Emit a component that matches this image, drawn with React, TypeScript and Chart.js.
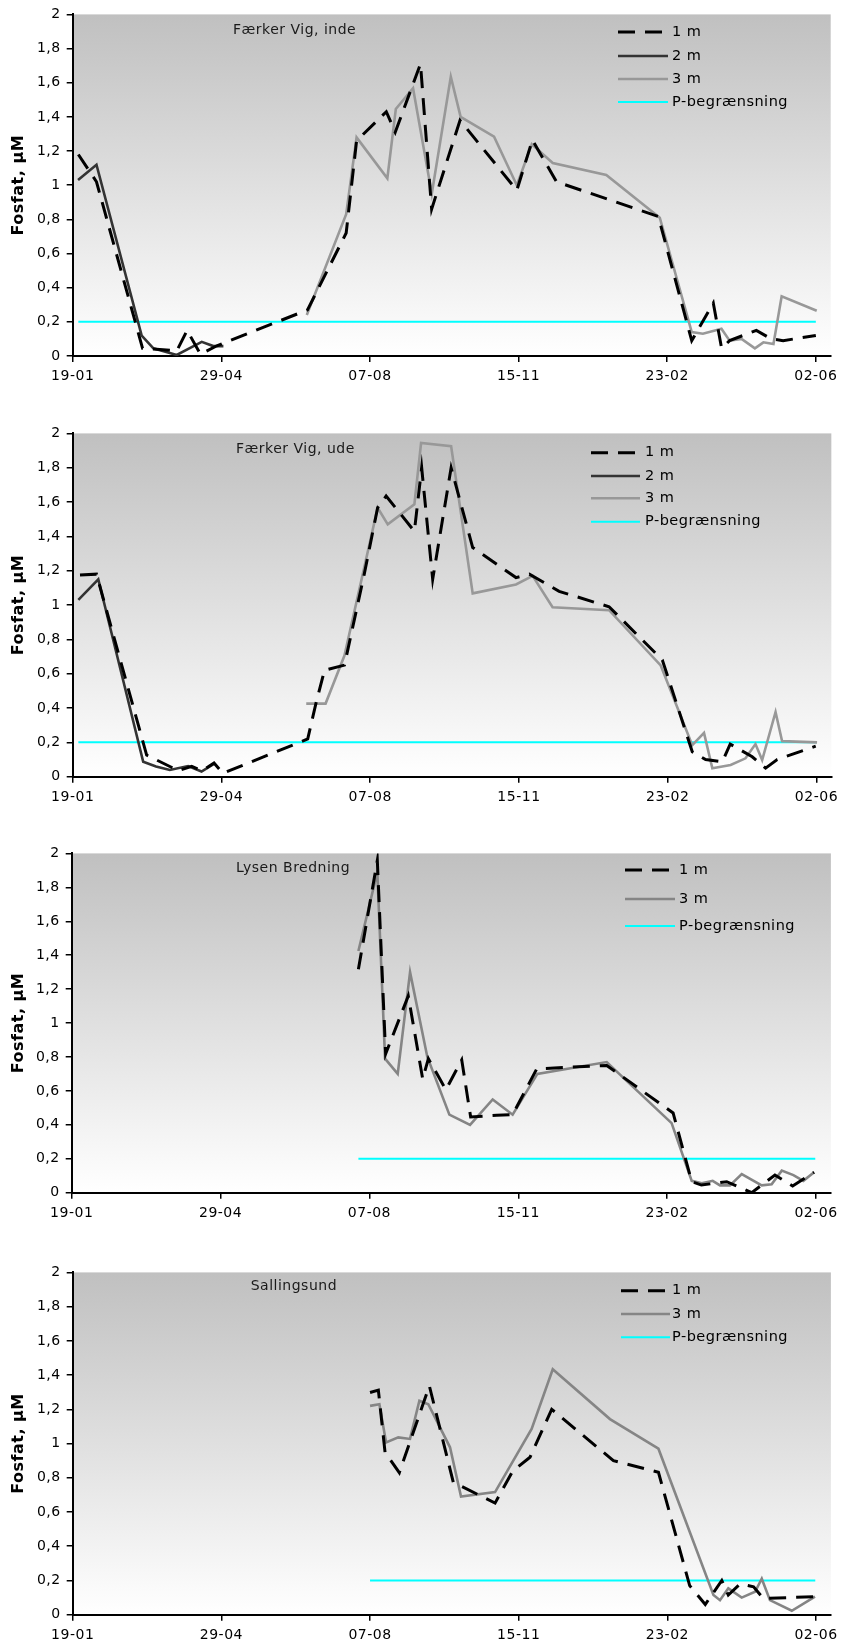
import React, { useEffect, useRef } from "react";
import { Chart, registerables } from "chart.js";

Chart.register(...registerables);

const FONT = "'DejaVu Sans', Verdana, sans-serif";

// Axis ticks (x in days after 19-01)
const xTickDays = [0, 100, 200, 300, 400, 500];
const xTickLabels = ["19-01", "29-04", "07-08", "15-11", "23-02", "02-06"];
const yTickValues = [0, 0.2, 0.4, 0.6, 0.8, 1, 1.2, 1.4, 1.6, 1.8, 2];
const yTickLabels = ["0", "0,2", "0,4", "0,6", "0,8", "1", "1,2", "1,4", "1,6", "1,8", "2"];

const label1m = "1 m";
const label2m = "2 m";
const label3m = "3 m";
const labelP = "P-begrænsning";
const pLimit = 0.2;
const yTitle = "Fosfat, µM";

// Færker Vig, inde
const inde1mDays = [3.8, 16, 47, 70, 77, 86, 97, 158, 184, 191, 211, 217, 234, 241.5, 260.6, 298.8, 309.3, 325.5, 394, 416.5, 431, 436.6, 442, 460, 470, 478, 500];
const inde1mVals = [1.18, 1.02, 0.045, 0.03, 0.15, 0.01, 0.06, 0.27, 0.72, 1.26, 1.43, 1.31, 1.71, 0.86, 1.38, 0.97, 1.265, 1.02, 0.817, 0.09, 0.31, 0.045, 0.09, 0.15, 0.1, 0.09, 0.12];
const inde2mDays = [3.6, 16, 46.4, 54.3, 70, 86.8, 94.6, 101.4];
const inde2mVals = [1.03, 1.12, 0.12, 0.045, 0.006, 0.083, 0.058, 0.058];
const inde3mDays = [157.5, 184, 191, 211.7, 217.4, 229, 241.6, 254.4, 261, 283.5, 298.8, 308.9, 323, 359, 395, 416.5, 424, 436.5, 442, 450, 459, 464.7, 471.5, 477, 500.6];
const inde3mVals = [0.24, 0.83, 1.28, 1.04, 1.446, 1.568, 0.95, 1.635, 1.4, 1.284, 1.0, 1.24, 1.13, 1.06, 0.81, 0.14, 0.13, 0.16, 0.09, 0.1, 0.045, 0.08, 0.07, 0.35, 0.265];
const indePDays = [3.8, 500];

// Færker Vig, ude
const ude1mDays = [4.9, 16, 49.7, 71, 80, 87, 95, 101, 158, 163.6, 169.3, 182.7, 196, 205, 210.7, 229.7, 234.6, 242, 254.4, 268.9, 298, 307, 327, 360.6, 396.4, 416.5, 425.5, 436.7, 442, 456.8, 465.8, 473.6, 499.5];
const ude1mVals = [1.175, 1.18, 0.126, 0.035, 0.06, 0.035, 0.08, 0.02, 0.22, 0.43, 0.62, 0.65, 1.18, 1.567, 1.635, 1.43, 1.8, 1.15, 1.8, 1.335, 1.16, 1.18, 1.08, 0.99, 0.68, 0.145, 0.1, 0.087, 0.19, 0.116, 0.05, 0.1, 0.178];
const ude2mDays = [3.8, 17.2, 47.4, 56, 65.3, 77.6, 86.6, 95.5];
const ude2mVals = [1.03, 1.15, 0.087, 0.06, 0.039, 0.062, 0.03, 0.078];
const ude3mDays = [157, 170, 182.7, 205, 211.8, 229.7, 234.2, 254.4, 268.9, 298, 309.2, 322.6, 360.6, 395.3, 416.5, 424.4, 430, 442.3, 452.3, 459, 463.5, 472.5, 476.9, 500.4];
const ude3mVals = [0.426, 0.426, 0.706, 1.567, 1.47, 1.587, 1.944, 1.925, 1.068, 1.12, 1.17, 0.987, 0.97, 0.648, 0.184, 0.255, 0.049, 0.068, 0.107, 0.19, 0.097, 0.377, 0.207, 0.2];
const udePDays = [3.8, 500];

// Lysen Bredning
const lysen1mDays = [192.6, 205.3, 210.9, 226.1, 235.8, 239.6, 251.4, 262, 268, 285.5, 296.2, 312.4, 359.4, 404, 416.5, 423, 440, 456.8, 472.4, 484.3, 498.7];
const lysen1mVals = [1.317, 1.958, 0.818, 1.16, 0.67, 0.79, 0.607, 0.783, 0.446, 0.456, 0.46, 0.73, 0.75, 0.47, 0.065, 0.045, 0.065, 0.0, 0.104, 0.04, 0.12];
const lysen3mDays = [192.6, 205.3, 210.5, 219, 227.3, 238.9, 253.7, 267.6, 282.8, 296.2, 312.8, 359.4, 403, 416.5, 423.2, 430.6, 435.5, 442.2, 450.1, 463.5, 470.2, 477, 484.8, 491.5, 498.7];
const lysen3mVals = [1.425, 1.89, 0.79, 0.7, 1.3, 0.8, 0.46, 0.4, 0.55, 0.46, 0.7, 0.77, 0.41, 0.07, 0.055, 0.07, 0.043, 0.043, 0.11, 0.043, 0.05, 0.13, 0.104, 0.07, 0.12];
const lysenPDays = [192.6, 499.5];

// Sallingsund
const salling1mDays = [200, 205.6, 210.1, 219.7, 239.9, 256, 284.1, 296, 307.6, 322.2, 363.7, 394, 415, 425.5, 436.6, 441, 449, 458, 464.5, 499.3];
const salling1mVals = [1.298, 1.312, 0.949, 0.83, 1.337, 0.774, 0.652, 0.84, 0.92, 1.2, 0.9, 0.832, 0.17, 0.06, 0.2, 0.115, 0.18, 0.163, 0.095, 0.105];
const salling3mDays = [200, 206.3, 210.8, 219, 226.9, 233.2, 239.2, 253.8, 261.2, 284.1, 308.7, 322.9, 361.4, 394, 431, 435.4, 441, 450, 459, 463.5, 469, 483.7, 499.3];
const salling3mVals = [1.22, 1.23, 1.007, 1.036, 1.027, 1.25, 1.23, 0.978, 0.69, 0.716, 1.085, 1.434, 1.143, 0.97, 0.115, 0.085, 0.154, 0.1, 0.134, 0.21, 0.085, 0.023, 0.105];
const sallingPDays = [200, 499.5];

const zip = (xs: number[], ys: number[]) => xs.map((x, i) => ({ x, y: ys[i] }));
const flat = (xs: number[], v: number) => xs.map((x) => ({ x, y: v }));

type Series = { label: string; days: number[]; vals: number[] | null; kind: string };

type Panel = {
  title: string;
  series: Series[];
  canvasTop: number;
  canvasH: number;
  plotTop: number;
  plotBottom: number;
  plotLeft: number;
  plotRight: number;
  gray: string;
  legend: { x0: number; x1: number; tx: number; rows: number[] };
  titleX: number;
  titleY: number;
};

const panels: Panel[] = [
  {
    title: "Færker Vig, inde",
    series: [
      { label: label1m, days: inde1mDays, vals: inde1mVals, kind: "d" },
      { label: label2m, days: inde2mDays, vals: inde2mVals, kind: "s2" },
      { label: label3m, days: inde3mDays, vals: inde3mVals, kind: "s3" },
      { label: labelP, days: indePDays, vals: null, kind: "p" },
    ],
    canvasTop: 0, canvasH: 389, plotTop: 13.3, plotBottom: 356, plotLeft: 72.7, plotRight: 830.7,
    gray: "#989898",
    legend: { x0: 618, x1: 668, tx: 672, rows: [32, 56, 79, 102] },
    titleX: 233, titleY: 30,
  },
  {
    title: "Færker Vig, ude",
    series: [
      { label: label1m, days: ude1mDays, vals: ude1mVals, kind: "d" },
      { label: label2m, days: ude2mDays, vals: ude2mVals, kind: "s2" },
      { label: label3m, days: ude3mDays, vals: ude3mVals, kind: "s3" },
      { label: labelP, days: udePDays, vals: null, kind: "p" },
    ],
    canvasTop: 419, canvasH: 391, plotTop: 432, plotBottom: 776.7, plotLeft: 72.7, plotRight: 833,
    gray: "#989898",
    legend: { x0: 591, x1: 640, tx: 645, rows: [33.7, 57, 79.3, 102.7] },
    titleX: 236, titleY: 30.3,
  },
  {
    title: "Lysen Bredning",
    series: [
      { label: label1m, days: lysen1mDays, vals: lysen1mVals, kind: "d" },
      { label: label3m, days: lysen3mDays, vals: lysen3mVals, kind: "s3" },
      { label: labelP, days: lysenPDays, vals: null, kind: "p" },
    ],
    canvasTop: 839, canvasH: 387, plotTop: 852, plotBottom: 1192.7, plotLeft: 71.7, plotRight: 830.9,
    gray: "#858585",
    legend: { x0: 625, x1: 675, tx: 679, rows: [31, 60, 87] },
    titleX: 236, titleY: 29.3,
  },
  {
    title: "Sallingsund",
    series: [
      { label: label1m, days: salling1mDays, vals: salling1mVals, kind: "d" },
      { label: label3m, days: salling3mDays, vals: salling3mVals, kind: "s3" },
      { label: labelP, days: sallingPDays, vals: null, kind: "p" },
    ],
    canvasTop: 1258, canvasH: 390, plotTop: 1271, plotBottom: 1614.7, plotLeft: 72.7, plotRight: 830.9,
    gray: "#858585",
    legend: { x0: 621, x1: 670, tx: 672, rows: [32.7, 56, 79.3] },
    titleX: 250.7, titleY: 28.7,
  },
];

function buildDataset(s: Series, gray: string) {
  const base: any = {
    label: s.label,
    data: s.vals ? zip(s.days, s.vals) : flat(s.days, pLimit),
    pointRadius: 0,
    pointHoverRadius: 0,
    fill: false,
    tension: 0,
  };
  if (s.kind === "d") {
    base.borderColor = "#000000";
    base.borderWidth = 3;
    base.borderDash = [17, 10];
  } else if (s.kind === "s2") {
    base.borderColor = "#333333";
    base.borderWidth = 2.6;
  } else if (s.kind === "s3") {
    base.borderColor = gray;
    base.borderWidth = 2.6;
  } else {
    base.borderColor = "#00ffff";
    base.borderWidth = 2;
  }
  return base;
}

function ChartPanel({ p }: { p: Panel }) {
  const ref = useRef<HTMLCanvasElement | null>(null);
  useEffect(() => {
    if (!ref.current) return;
    const padTop = p.plotTop - p.canvasTop;
    const localBottom = p.plotBottom - p.canvasTop;
    const xAxisH = p.canvasH - localBottom;
    const padRight = 843 - p.plotRight;

    const bgPlugin = {
      id: "bgGradient",
      beforeDraw(chart: any) {
        const { ctx, chartArea } = chart;
        const { left, top, right, bottom } = chartArea;
        const g = ctx.createLinearGradient(0, top, 0, bottom);
        g.addColorStop(0, "#c0c0c0");
        g.addColorStop(1, "#ffffff");
        ctx.save();
        ctx.fillStyle = g;
        ctx.fillRect(left, top, right - left, bottom - top);
        ctx.restore();
        try { (ctx as any).letterSpacing = "0.5px"; } catch (e) {}
      },
    };

    const overlayPlugin = {
      id: "overlay",
      afterDraw(chart: any) {
        const ctx = chart.ctx;
        ctx.save();
        try { (ctx as any).letterSpacing = "0.5px"; } catch (e) {}
        ctx.font = `14px ${FONT}`;
        ctx.fillStyle = "#1a1a1a";
        ctx.textBaseline = "middle";
        ctx.textAlign = "left";
        ctx.fillText(p.title, p.titleX, p.titleY);
        const lg = p.legend;
        ctx.font = `14.5px ${FONT}`;
        chart.data.datasets.forEach((ds: any, i: number) => {
          const y = lg.rows[i];
          ctx.save();
          ctx.strokeStyle = ds.borderColor;
          ctx.lineWidth = ds.borderWidth;
          ctx.setLineDash(ds.borderDash || []);
          ctx.beginPath();
          ctx.moveTo(lg.x0, y);
          ctx.lineTo(lg.x1, y);
          ctx.stroke();
          ctx.restore();
          ctx.fillStyle = "#000";
          ctx.fillText(ds.label, lg.tx, y);
        });
        ctx.restore();
      },
    };

    const chart = new Chart(ref.current, {
      type: "line",
      data: { datasets: p.series.map((s) => buildDataset(s, p.gray)) },
      options: {
        responsive: false,
        animation: false,
        devicePixelRatio: 1,
        events: [],
        layout: { padding: { top: padTop, left: 0, right: padRight, bottom: 0 } },
        plugins: {
          legend: { display: false },
          tooltip: { enabled: false },
          title: { display: false },
        },
        scales: {
          x: {
            type: "linear",
            min: 0,
            max: 510,
            afterBuildTicks: (s: any) => {
              s.ticks = xTickDays.map((v) => ({ value: v }));
            },
            afterFit: (s: any) => {
              s.height = xAxisH;
            },
            grid: {
              display: true,
              drawOnChartArea: false,
              drawTicks: true,
              tickLength: 6,
              color: "#000",
              lineWidth: 1.5,
            },
            border: { display: true, color: "#000", width: 2 },
            ticks: {
              autoSkip: false,
              maxRotation: 0,
              padding: 6,
              color: "#000",
              font: { family: FONT, size: 14 },
              callback: (_v: any, i: number) => xTickLabels[i],
            },
          },
          y: {
            type: "linear",
            min: 0,
            max: 2,
            afterBuildTicks: (s: any) => {
              s.ticks = yTickValues.map((v) => ({ value: v }));
            },
            afterFit: (s: any) => {
              s.width = p.plotLeft;
            },
            grid: {
              display: true,
              drawOnChartArea: false,
              drawTicks: true,
              tickLength: 6,
              color: "#000",
              lineWidth: 1.5,
            },
            border: { display: true, color: "#000", width: 2 },
            ticks: {
              autoSkip: false,
              padding: 6,
              color: "#000",
              font: { family: FONT, size: 14 },
              callback: (_v: any, i: number) => yTickLabels[i],
            },
            title: {
              display: true,
              text: yTitle,
              color: "#000",
              font: { family: FONT, size: 16, weight: "bold" },
              padding: { top: 9, bottom: 0 },
            },
          },
        },
      } as any,
      plugins: [bgPlugin, overlayPlugin],
    });
    return () => chart.destroy();
  }, [p]);

  return (
    <canvas
      ref={ref}
      width={843}
      height={p.canvasH}
      style={{ position: "absolute", left: 0, top: p.canvasTop, width: 843, height: p.canvasH }}
    />
  );
}

export default function App() {
  return (
    <div style={{ position: "absolute", left: 0, top: 0, width: 843, height: 1648, background: "#ffffff", overflow: "hidden" }}>
      {panels.map((p, i) => (
        <ChartPanel key={i} p={p} />
      ))}
    </div>
  );
}
